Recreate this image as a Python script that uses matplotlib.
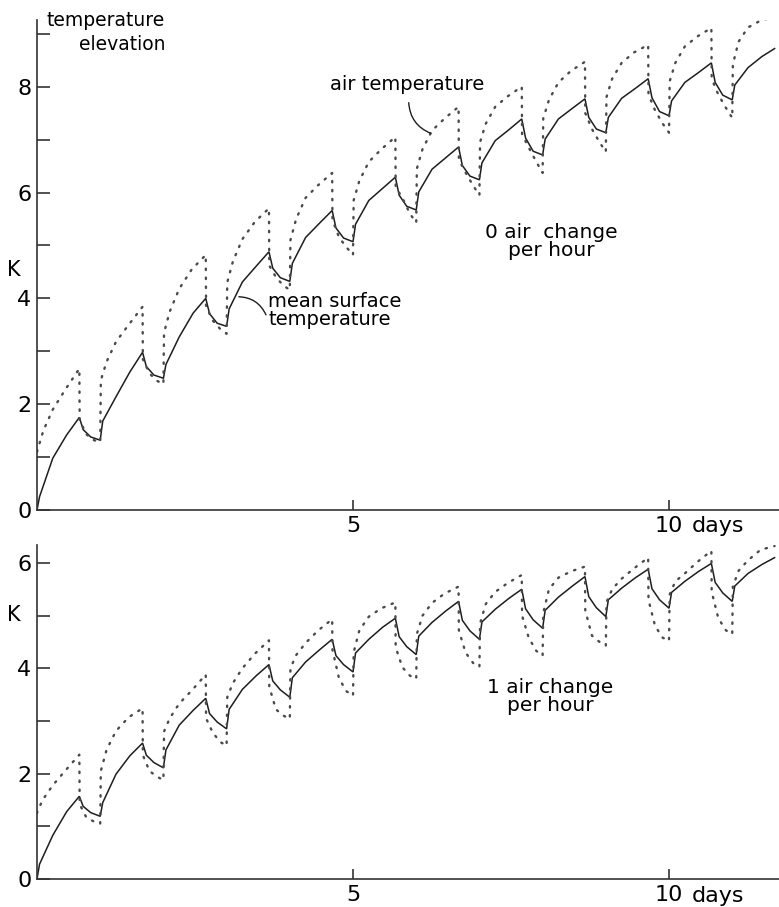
import matplotlib.pyplot as plt

surf_offsets = [0.0, 0.04, 0.25, 0.47, 0.67, 0.73, 0.85]
air_offsets = [0.0, 0.01, 0.1, 0.25, 0.45, 0.67, 0.675, 0.78, 0.9]

# 0 air change per hour -- mean surface temperature (K), one row per day
top_surface = [
    [0.00, 0.25, 0.98, 1.42, 1.75, 1.52, 1.38],
    [1.32, 1.68, 2.14, 2.61, 2.98, 2.71, 2.55],
    [2.49, 2.75, 3.27, 3.72, 4.00, 3.71, 3.53],
    [3.47, 3.80, 4.31, 4.61, 4.88, 4.57, 4.39],
    [4.32, 4.66, 5.15, 5.42, 5.66, 5.33, 5.14],
    [5.07, 5.40, 5.85, 6.08, 6.29, 5.95, 5.74],
    [5.67, 6.01, 6.44, 6.66, 6.86, 6.51, 6.31],
    [6.24, 6.56, 6.98, 7.19, 7.39, 7.03, 6.78],
    [6.71, 7.01, 7.39, 7.59, 7.77, 7.42, 7.20],
    [7.13, 7.42, 7.78, 7.97, 8.15, 7.79, 7.53],
    [7.45, 7.73, 8.08, 8.27, 8.45, 8.08, 7.84],
]
top_surface_last = [7.75, 8.03, 8.36, 8.57, 8.72]

# 0 air change per hour -- air temperature (K)
top_air = [
    [1.10, 1.14, 1.50, 1.90, 2.28, 2.67, 1.70, 1.43, 1.32],
    [1.28, 2.45, 2.80, 3.18, 3.50, 3.84, 2.85, 2.58, 2.44],
    [2.38, 3.35, 3.75, 4.18, 4.55, 4.82, 3.85, 3.58, 3.42],
    [3.33, 4.30, 4.70, 5.12, 5.45, 5.70, 4.62, 4.40, 4.24],
    [4.16, 5.10, 5.50, 5.90, 6.14, 6.37, 5.48, 5.15, 4.96],
    [4.82, 5.85, 6.22, 6.58, 6.82, 7.05, 6.10, 5.90, 5.60],
    [5.43, 6.45, 6.82, 7.17, 7.40, 7.62, 6.62, 6.38, 6.13],
    [5.95, 6.95, 7.30, 7.62, 7.82, 8.00, 7.10, 6.85, 6.58],
    [6.37, 7.40, 7.75, 8.08, 8.30, 8.47, 7.50, 7.20, 6.95],
    [6.77, 7.80, 8.15, 8.45, 8.65, 8.79, 7.85, 7.55, 7.30],
    [7.13, 8.10, 8.45, 8.76, 8.95, 9.11, 8.15, 7.85, 7.60],
]
top_air_last = [7.41, 8.42, 8.85, 9.12, 9.25, 9.32]

# 1 air change per hour -- mean surface temperature (K)
bottom_surface = [
    [0.00, 0.28, 0.83, 1.28, 1.57, 1.38, 1.26],
    [1.19, 1.45, 1.99, 2.34, 2.58, 2.35, 2.21],
    [2.11, 2.45, 2.92, 3.20, 3.43, 3.14, 2.98],
    [2.85, 3.22, 3.60, 3.86, 4.07, 3.76, 3.59],
    [3.45, 3.82, 4.12, 4.35, 4.55, 4.24, 4.07],
    [3.93, 4.29, 4.55, 4.78, 4.95, 4.60, 4.41],
    [4.26, 4.61, 4.87, 5.09, 5.27, 4.91, 4.71],
    [4.55, 4.88, 5.12, 5.33, 5.50, 5.13, 4.92],
    [4.76, 5.10, 5.35, 5.56, 5.74, 5.36, 5.15],
    [4.98, 5.30, 5.52, 5.72, 5.88, 5.51, 5.30],
    [5.14, 5.44, 5.65, 5.84, 5.99, 5.63, 5.43],
]
bottom_surface_last = [5.27, 5.56, 5.80, 5.97, 6.10]

# 1 air change per hour -- air temperature (K)
bottom_air = [
    [1.25, 1.30, 1.52, 1.78, 2.06, 2.36, 1.42, 1.17, 1.09],
    [1.05, 2.05, 2.45, 2.81, 3.07, 3.24, 2.35, 2.05, 1.94],
    [1.88, 2.80, 3.05, 3.33, 3.58, 3.88, 3.05, 2.78, 2.60],
    [2.53, 3.45, 3.72, 4.00, 4.28, 4.53, 3.65, 3.22, 3.10],
    [3.04, 4.00, 4.25, 4.48, 4.72, 4.93, 4.35, 3.80, 3.56],
    [3.48, 4.30, 4.72, 4.98, 5.14, 5.25, 4.40, 4.02, 3.86],
    [3.80, 4.65, 5.00, 5.24, 5.42, 5.55, 4.72, 4.30, 4.10],
    [4.03, 4.85, 5.22, 5.45, 5.62, 5.77, 5.00, 4.58, 4.33],
    [4.24, 5.05, 5.50, 5.72, 5.84, 5.93, 5.10, 4.62, 4.50],
    [4.43, 5.25, 5.50, 5.70, 5.90, 6.10, 5.30, 4.80, 4.58],
    [4.52, 5.40, 5.65, 5.80, 6.02, 6.23, 5.45, 4.95, 4.72],
]
bottom_air_last = [4.65, 5.55, 5.85, 6.05, 6.25, 6.32]


def build(rows, last, offsets):
    t, v = [], []
    for day, row in enumerate(rows):
        for off, val in zip(offsets, row):
            t.append(day + off)
            v.append(val)
    for off, val in zip(offsets, last):
        t.append(len(rows) + off)
        v.append(val)
    return t, v


W, H = 779, 907
plt.rcParams['font.family'] = ['DejaVu Sans']
fig = plt.figure(figsize=(W / 100, H / 100), dpi=100)


def fx(x):
    return x / W


def fy(y):
    return 1 - y / H


ink = '#1e1e1e'
dots = '#4a4a4a'

ax_top = fig.add_axes([fx(37), fy(510), 1 - fx(37), fy(20) - fy(510)])
ax_bot = fig.add_axes([fx(37), fy(879), 1 - fx(37), fy(545) - fy(879)])

panels = [
    (ax_top, top_surface, top_surface_last, top_air, top_air_last, 9.26, range(0, 10)),
    (ax_bot, bottom_surface, bottom_surface_last, bottom_air, bottom_air_last, 6.34, range(0, 7)),
]

for ax, surf, surf_last, air, air_last, ymax, yt in panels:
    ts, vs = build(surf, surf_last, surf_offsets)
    ta, va = build(air, air_last, air_offsets)
    ax.plot(ts, vs, color=ink, lw=1.1, solid_joinstyle='miter')
    ax.plot(ta, va, color=dots, lw=1.7, linestyle=(0, (0.6, 3.2)), dash_capstyle='round')
    ax.set_xlim(0, 11.74)
    ax.set_ylim(0, ymax)
    for s in ['top', 'right']:
        ax.spines[s].set_visible(False)
    for s in ['left', 'bottom']:
        ax.spines[s].set_color('#333333')
        ax.spines[s].set_linewidth(1.2)
    ax.set_yticks(list(yt))
    ax.set_yticklabels([str(v) if v % 2 == 0 else '' for v in yt])
    ax.set_xticks([5, 10])
    ax.set_xticklabels(['5', '10'])
    ax.tick_params(axis='y', direction='in', length=9, width=1.2, color='#333333',
                   labelsize=16, pad=4)
    ax.tick_params(axis='x', direction='in', length=7, width=1.2, color='#333333',
                   labelsize=16, pad=4)
    ax.patch.set_alpha(0)

# axis annotations
fig.text(fx(165), fy(20), 'temperature', ha='right', va='center', fontsize=13.5)
fig.text(fx(165), fy(45), 'elevation', ha='right', va='center', fontsize=13.5)
fig.text(fx(14), fy(270), 'K', ha='center', va='center', fontsize=15)
fig.text(fx(14), fy(615), 'K', ha='center', va='center', fontsize=15)
fig.text(fx(692), fy(526), 'days', ha='left', va='center', fontsize=16)
fig.text(fx(692), fy(896), 'days', ha='left', va='center', fontsize=16)

ax_top.text(5.85, 8.05, 'air temperature', ha='center', va='center', fontsize=14)
ax_top.annotate('', xy=(6.27, 7.1), xytext=(5.88, 7.75),
                arrowprops=dict(arrowstyle='-', color=ink, lw=1.0,
                                connectionstyle='arc3,rad=0.35'))
ax_top.text(3.66, 3.77, 'mean surface\ntemperature', ha='left', va='center',
            fontsize=14, linespacing=0.95)
ax_top.annotate('', xy=(3.15, 4.03), xytext=(3.64, 3.64),
                arrowprops=dict(arrowstyle='-', color=ink, lw=1.0,
                                connectionstyle='arc3,rad=0.35'))
ax_top.text(8.13, 5.07, '0 air  change\nper hour', ha='center', va='center',
            fontsize=14.5, linespacing=0.95)
ax_bot.text(8.12, 3.47, '1 air change\nper hour', ha='center', va='center',
            fontsize=14.5, linespacing=0.95)

fig.savefig('out.png', dpi=100)
